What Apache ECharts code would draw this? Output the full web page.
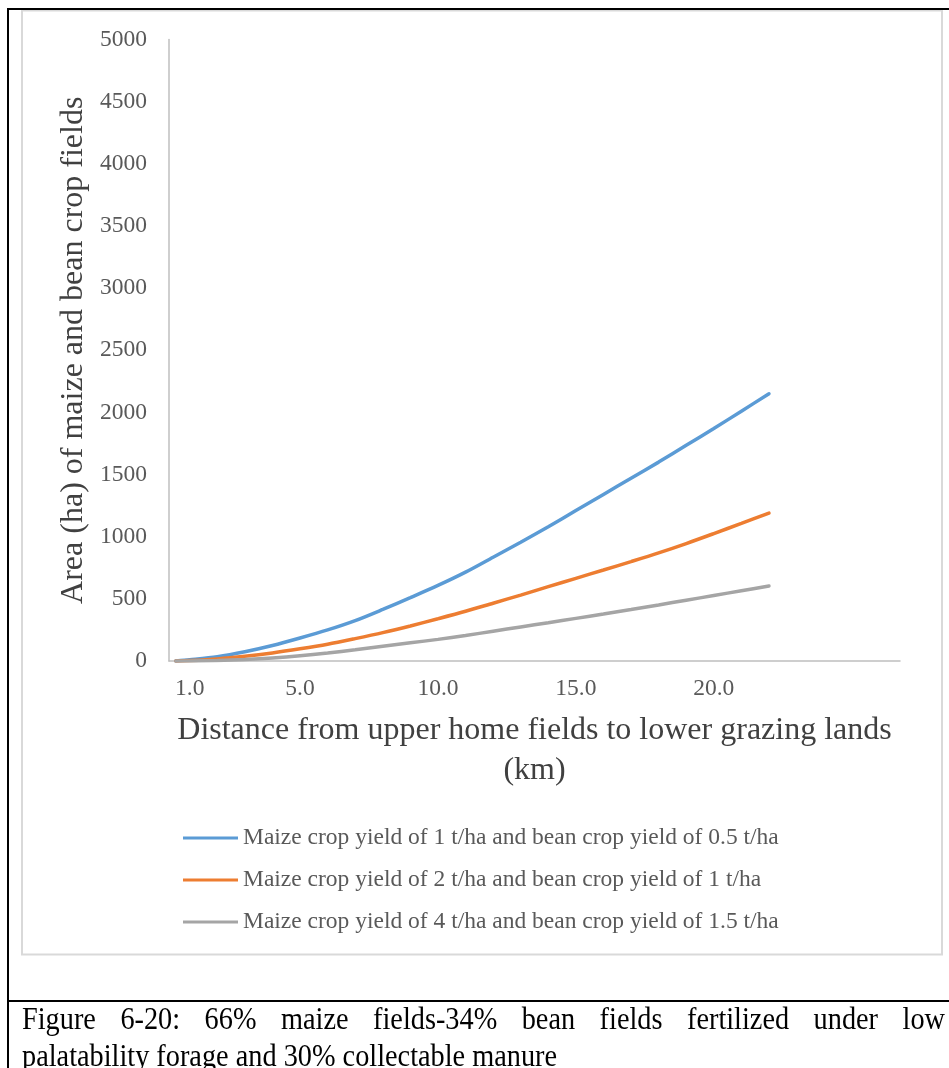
<!DOCTYPE html>
<html>
<head>
<meta charset="utf-8">
<script src="https://cdn.jsdelivr.net/npm/echarts@6/dist/echarts.min.js"></script>
<style>
  html, body { margin: 0; padding: 0; background: #fff; overflow: hidden; }
  #wrap { position: relative; width: 949px; height: 1068px; overflow: hidden; }
  #chart { position: absolute; left: 0; top: 0; width: 949px; height: 1068px; }
  #caption {
    position: absolute; left: 22px; top: 1000px; width: 923px;
    font-family: 'Liberation Serif', 'Times New Roman', serif;
    font-size: 28.3px; line-height: 33px; color: #000;
    transform: scaleY(1.12); transform-origin: 0 0;
  }
  #caption .l1 { display: block; text-align: justify; text-align-last: justify; white-space: nowrap; }
  #caption .l2 { display: block; white-space: nowrap; }
</style>
</head>
<body>
<div id="wrap">
  <div id="chart"></div>
  <div id="caption"><span class="l1">Figure 6-20: 66% maize fields-34% bean fields fertilized under low</span><span class="l2">palatability forage and 30% collectable manure</span></div>
</div>
<script>
// ---- data ----
const distanceKm = [0.5, 1, 2, 3, 4, 5, 6, 7, 8, 9, 10, 11, 12, 13, 14, 15, 16, 17, 18, 19, 20, 21, 22];
const seriesNames = [
  'Maize crop yield of 1 t/ha and bean crop yield of 0.5 t/ha',
  'Maize crop yield of 2 t/ha and bean crop yield of 1 t/ha',
  'Maize crop yield of 4 t/ha and bean crop yield of 1.5 t/ha'
];
const areaYield1 = [0, 10, 35, 75, 125, 185, 250, 325, 415, 510, 608, 715, 835, 955, 1080, 1210, 1340, 1470, 1600, 1735, 1870, 2010, 2150];
const areaYield2 = [0, 4, 17, 38, 65, 98, 135, 180, 228, 282, 340, 400, 465, 530, 598, 665, 732, 800, 870, 945, 1025, 1107, 1190];
const areaYield4 = [0, 1, 5, 13, 25, 42, 64, 90, 118, 146, 174, 205, 240, 274, 308, 343, 378, 414, 451, 489, 527, 565, 603];
const xTickValues = [1, 5, 10, 15, 20];
const yTickLabels = ['0','500','1000','1500','2000','2500','3000','3500','4000','4500','5000'];
const xAxisTitle = 'Distance from upper home fields to lower grazing lands\n(km)';
const yAxisTitle = 'Area (ha) of maize and bean crop fields';

const colors = ['#5b9bd5', '#ed7d31', '#a5a5a5'];
const serif = "'Liberation Serif', 'Times New Roman', serif";

function pairs(ys) { return distanceKm.map((x, i) => [x, ys[i]]); }

const chart = echarts.init(document.getElementById('chart'), null, { renderer: 'canvas' });
chart.setOption({
  animation: false,
  backgroundColor: '#fff',
  color: colors,
  grid: { left: 169, right: 49, top: 39.5, bottom: 407, containLabel: false },
  xAxis: {
    type: 'value',
    min: 0.25,
    max: 26.75,
    axisLine: { show: true, lineStyle: { color: '#bfbfbf', width: 1.5 } },
    axisTick: { show: false },
    splitLine: { show: false },
    axisLabel: {
      customValues: xTickValues,
      formatter: v => Number(v).toFixed(1),
      color: '#595959', fontFamily: serif, fontSize: 23.5, margin: 16
    },
    name: xAxisTitle,
    nameLocation: 'middle',
    nameGap: 50,
    nameTextStyle: { color: '#404040', fontFamily: serif, fontSize: 32, lineHeight: 40 }
  },
  yAxis: {
    type: 'value',
    min: 0,
    max: 5000,
    interval: 500,
    axisLine: { show: true, lineStyle: { color: '#bfbfbf', width: 1.5 } },
    axisTick: { show: false },
    splitLine: { show: false },
    axisLabel: {
      formatter: v => yTickLabels[Math.round(v / 500)],
      color: '#595959', fontFamily: serif, fontSize: 23.5, margin: 22
    },
    name: yAxisTitle,
    nameLocation: 'middle',
    nameGap: 76,
    nameTextStyle: { color: '#404040', fontFamily: serif, fontSize: 32 }
  },
  legend: {
    orient: 'vertical',
    left: 183,
    top: 826,
    padding: 0,
    icon: 'rect',
    itemWidth: 55,
    itemHeight: 3,
    itemGap: 18,
    textStyle: { color: '#595959', fontFamily: serif, fontSize: 23.5 },
    data: seriesNames
  },
  series: [areaYield1, areaYield2, areaYield4].map((ys, i) => ({
    name: seriesNames[i],
    type: 'line',
    data: pairs(ys),
    smooth: 0.3,
    showSymbol: false,
    symbol: 'none',
    lineStyle: { width: 3.5, color: colors[i], cap: 'round' },
    itemStyle: { color: colors[i] }
  })),
  graphic: [
    { type: 'rect', shape: { x: 22, y: 10.5, width: 920, height: 944 }, style: { fill: 'none', stroke: '#d9d9d9', lineWidth: 2 }, silent: true },
    { type: 'rect', shape: { x: 7, y: 8, width: 2, height: 1060 }, style: { fill: '#000' }, silent: true },
    { type: 'rect', shape: { x: 7, y: 8, width: 942, height: 2 }, style: { fill: '#000' }, silent: true },
    { type: 'rect', shape: { x: 7, y: 1000, width: 942, height: 2 }, style: { fill: '#000' }, silent: true }
  ]
});
</script>
</body>
</html>
